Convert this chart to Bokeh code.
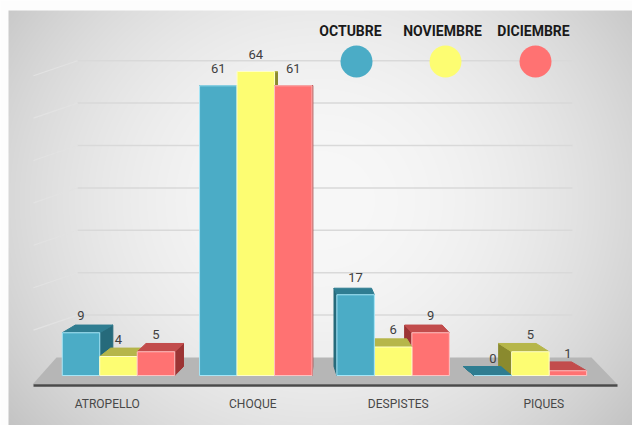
import numpy as np
from bokeh.plotting import figure
from bokeh.models import Range1d, ColumnDataSource
from bokeh.embed import file_html
from bokeh.resources import INLINE
from bokeh.core.properties import value

# ---------------- data ----------------
CATEGORIES = ["ATROPELLO", "CHOQUE", "DESPISTES", "PIQUES"]
SERIES = ["OCTUBRE", "NOVIEMBRE", "DICIEMBRE"]
OCTUBRE = [9, 61, 17, 0]
NOVIEMBRE = [4, 64, 6, 5]
DICIEMBRE = [5, 61, 9, 1]
GRID_VALUES = [10, 20, 30, 40, 50, 60, 70]

# ---------------- style ----------------
FRONT = ["#4bacc6", "#fdfd72", "#ff7272"]
TOP = ["#2f7d91", "#b6b64a", "#c24c4c"]
SIDE = ["#266a7b", "#8a8a2e", "#9c3434"]
EDGE = ["#a6e6f7", "#ffffc8", "#ffc0c0"]
FONT = "Roboto"

W, H = 632, 425
PAGE_X0, PAGE_Y0 = 0, 0
GX0, GPX = 118.0, 137.3      # page x of first category centre, px per category
BASE_Y, YPX = 375.0, 4.75    # page y of value 0 (front), px per unit


def X(px):
    return (px - GX0) / GPX


def Y(py):
    return (BASE_Y - py) / YPX


x_range = Range1d(X(PAGE_X0), X(PAGE_X0 + W))
y_range = Range1d(Y(PAGE_Y0 + H), Y(PAGE_Y0))

p = figure(width=W, height=H, x_range=x_range, y_range=y_range,
           output_backend="svg", toolbar_location=None, min_border=0)
p.axis.visible = False
p.grid.visible = False
p.outline_line_color = None
p.background_fill_color = "white"
p.border_fill_color = "white"

# ---------------- background gradient ----------------
yy, xx = np.mgrid[0:H, 0:W]
page_x = PAGE_X0 + xx + 0.5
page_y = PAGE_Y0 + (H - 1 - yy) + 0.5
r2 = ((page_x - 320) / 330) ** 2 + ((page_y - 200) / 300) ** 2
L = np.clip(248 - 36 * r2, 195, 250)
L = np.where((page_x < 8) | (page_y < 10), 253, L).astype(np.uint32)
img = (np.uint32(255) << 24) | (L << 16) | (L << 8) | L
p.image_rgba(image=[img], x=x_range.start, y=y_range.start,
             dw=x_range.end - x_range.start, dh=y_range.end - y_range.start)

# ---------------- back wall grid ----------------
WALL_BASE, WALL_PX = 357.0, 4.24
gx0, gx1 = X(77), X(572)
gxs, gys, wxs, wys = [], [], [], []
for v in GRID_VALUES:
    yv = Y(WALL_BASE - WALL_PX * v)
    gxs.append([gx0, gx1])
    gys.append([yv, yv])
    wxs.append([X(33), gx0])
    wys.append([yv - 15 / YPX, yv])
p.multi_line(gxs, gys, line_color="#d9d9d9", line_width=1.5)
p.multi_line(wxs, wys, line_color="#e2e2e2", line_width=1.2)

# ---------------- floor ----------------
p.patch([X(32), X(617), X(591), X(56)],
        [Y(384), Y(384), Y(357), Y(357)],
        fill_color="#b6b6b6", line_color=None)
p.line([X(33), X(617)], [Y(385), Y(385)], line_color="#4a4a4a", line_width=2.5)

# ---------------- 3D bars ----------------
values = [OCTUBRE, NOVIEMBRE, DICIEMBRE]
BAR_W = 37.5 / GPX
VP = X(306)           # horizontal vanishing point (data x)
K = 0.058             # horizontal depth factor
VY = 80.0             # page y of eye level
KY = 9.0 / (BASE_Y - VY)
DEPTH = 9 / YPX       # label offset depth


def depth(v):
    """vertical depth shift (data units) for a point at value v"""
    return KY * ((BASE_Y - v * YPX) - VY) / YPX


bars = []
for s in range(len(SERIES)):
    for g in range(len(CATEGORIES)):
        cx = g + (s - 1) * BAR_W
        bars.append((abs(cx - VP), s, g, cx, values[s][g]))
bars.sort(key=lambda b: -b[0])

xs, ys, fills, lines = [], [], [], []
for _, s, g, cx, v in bars:
    x0, x1 = cx - BAR_W / 2, cx + BAR_W / 2
    ddx = -K * (cx - VP)
    dt, db = depth(v), depth(0)
    # side face
    sx = x1 if ddx > 0 else x0
    xs.append([sx, sx, sx + ddx, sx + ddx])
    ys.append([0, v, v + dt, db])
    fills.append(SIDE[s]); lines.append(SIDE[s])
    # top face
    xs.append([x0, x1, x1 + ddx, x0 + ddx])
    ys.append([v, v, v + dt, v + dt])
    fills.append(TOP[s]); lines.append(TOP[s])
    # front face
    xs.append([x0, x1, x1, x0])
    ys.append([0, 0, v, v])
    fills.append(FRONT[s]); lines.append(EDGE[s])

src = ColumnDataSource(dict(xs=xs, ys=ys, fill=fills, line=lines))
p.patches("xs", "ys", source=src, fill_color="fill", line_color="line", line_width=1)

# ---------------- value labels ----------------
lx, ly, lt = [], [], []
for s in range(len(SERIES)):
    for g in range(len(CATEGORIES)):
        v = values[s][g]
        lx.append(g + (s - 1) * BAR_W)
        ly.append(v + DEPTH + 4 / YPX)
        lt.append(str(v))
p.text(x=lx, y=ly, text=lt, text_align="center", text_baseline="bottom",
       text_font=value(FONT), text_font_size="13px", text_color="#404040")

# ---------------- category labels ----------------
cx_lab = [VP + (g - VP) * 1.06 for g in range(len(CATEGORIES))]
p.text(x=cx_lab, y=[Y(403)] * len(CATEGORIES), text=CATEGORIES,
       text_align="center", text_baseline="middle",
       text_font=value(FONT), text_font_size="12px", text_color="#484848")

# ---------------- legend ----------------
LEG_TEXT_X = [350, 442, 533]
LEG_DOT_X = [356, 445, 535]
p.text(x=[X(v) for v in LEG_TEXT_X], y=[Y(30)] * 3, text=SERIES,
       text_align="center", text_baseline="middle",
       text_font=value(FONT), text_font_style="bold", text_font_size="14px",
       text_color="#1a1a1a")
p.scatter(x=[X(v) for v in LEG_DOT_X], y=[Y(61)] * 3, size=32,
          fill_color=FRONT, line_color=None)

open("out.html", "w").write(file_html(p, INLINE))
